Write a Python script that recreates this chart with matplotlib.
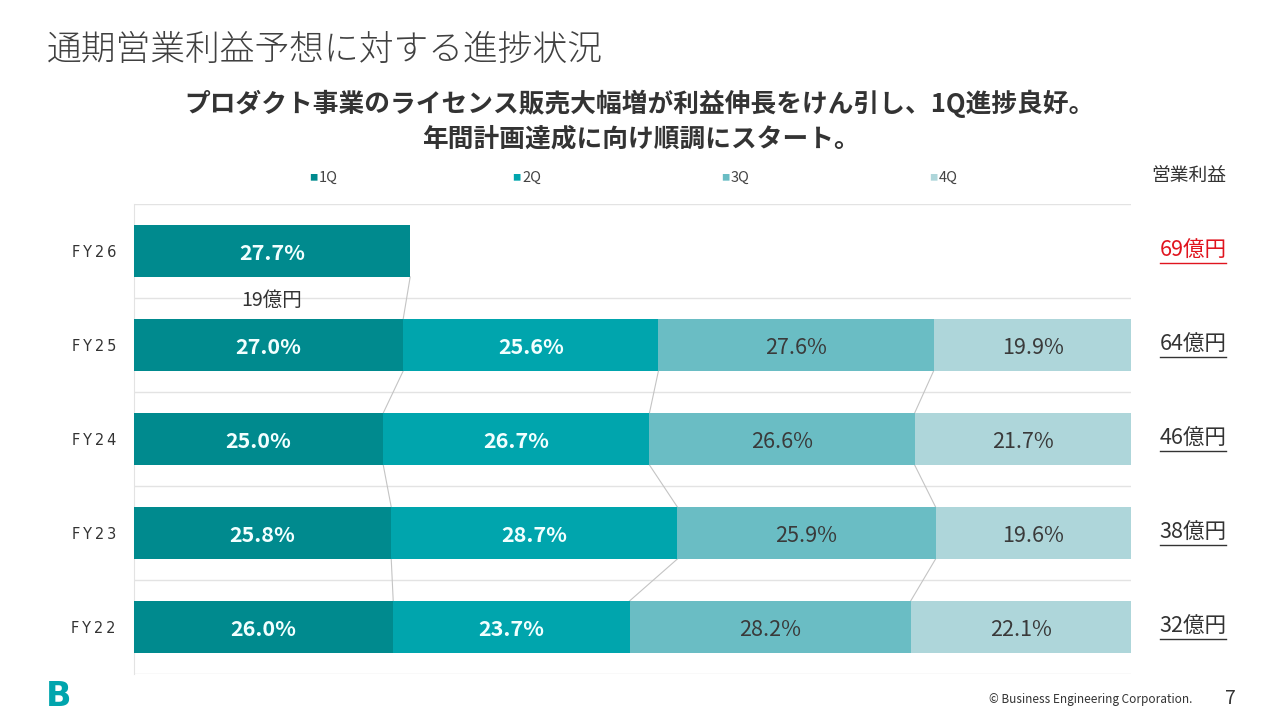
import matplotlib.pyplot as plt
import numpy as np

plt.rcParams['font.family'] = ['Noto Sans CJK JP', 'DejaVu Sans']

# データ
years = ['FY26', 'FY25', 'FY24', 'FY23', 'FY22']
quarters = ['1Q', '2Q', '3Q', '4Q']
q1 = [27.7, 27.0, 25.0, 25.8, 26.0]
q2 = [0.0, 25.6, 26.7, 28.7, 23.7]
q3 = [0.0, 27.6, 26.6, 25.9, 28.2]
q4 = [0.0, 19.9, 21.7, 19.6, 22.1]
profit = ['69億円', '64億円', '46億円', '38億円', '32億円']
fy26_q1_amount = '19億円'

colors = ['#008A8E', '#00A5AD', '#6ABDC4', '#AED6DA']
label_colors = ['#F2FFFF', '#F2FFFF', '#3A3A3A', '#3A3A3A']
label_weights = ['bold', 'bold', 'normal', 'normal']

fig = plt.figure(figsize=(12.8, 7.2), dpi=100)
ax = fig.add_axes([134 / 1280, 1 - 674 / 720, (1131 - 134) / 1280, (674 - 204) / 720])

y = np.arange(len(years))
bar_h = 0.553
series = [q1, q2, q3, q4]
left = np.zeros(len(years))
for i, vals in enumerate(series):
    vals = np.array(vals)
    ax.barh(y, vals, left=left, height=bar_h, color=colors[i], label=quarters[i],
            edgecolor='none', zorder=3)
    for j, v in enumerate(vals):
        if v > 0:
            ax.text(left[j] + v / 2, y[j], f'{v:.1f}%', ha='center', va='center_baseline',
                    fontsize=15.5, color=label_colors[i], weight=label_weights[i], zorder=4)
    left = left + vals

# 系列線（上のバーの下端 → 下のバーの上端）
cum = np.cumsum(np.array(series), axis=0)
for k in range(3):
    for j in range(len(years) - 1):
        if j == 0 and k > 0:
            continue
        ax.plot([cum[k][j], cum[k][j + 1]], [y[j] + bar_h / 2, y[j + 1] - bar_h / 2],
                color='#C4C4C4', lw=0.8, zorder=2)

ax.set_xlim(0, 100)
ax.set_ylim(len(years) - 0.5, -0.5)
ax.set_yticks(y)
ax.set_yticklabels(['\u2009'.join(s) for s in years], fontsize=10.5, color='#333333',
                   fontfamily=['DejaVu Sans'])
ax.tick_params(axis='y', length=0, pad=13)
ax.set_xticks([])
for b in np.arange(-0.5, len(years) + 0.5, 1):
    ax.axhline(b, color='#E3E3E3', lw=1, zorder=1)
for s in ['top', 'right', 'bottom']:
    ax.spines[s].set_visible(False)
ax.spines['left'].set_color('#E3E3E3')

ax.text(q1[0] / 2, 0.5, fy26_q1_amount, ha='center', va='center_baseline', fontsize=14, color='#333333')

# 右側の営業利益
fig.text(1189 / 1280, 1 - 175 / 720, '営業利益', ha='center', va='center', fontsize=13.5, color='#333333')
for j, p in enumerate(profit):
    c = '#E0141E' if j == 0 else '#333333'
    yy = ax.transData.transform((0, y[j]))[1] / 720
    fig.text(1193 / 1280, yy, p, ha='center', va='center', fontsize=15.5, color=c)
    fig.lines.append(plt.Line2D([1160 / 1280, 1226 / 1280], [yy - 12 / 720, yy - 12 / 720],
                                color=c, lw=1, transform=fig.transFigure))

# 凡例
legend_x = [313, 516, 725, 933]
for i, q in enumerate(quarters):
    fig.text(legend_x[i] / 1280, 1 - 178 / 720, '■', ha='center', va='center', fontsize=6, color=colors[i])
    fig.text((legend_x[i] + 6) / 1280, 1 - 178 / 720, q, ha='left', va='center', fontsize=10.5, color='#444444')

# タイトル
fig.text(47 / 1280, 1 - 50 / 720, '通期営業利益予想に対する進捗状況', ha='left', va='center',
         fontsize=25, color='#404040', weight='light')
fig.text(640 / 1280, 1 - 104 / 720, 'プロダクト事業のライセンス販売大幅増が利益伸長をけん引し、1Q進捗良好。',
         ha='center', va='center', fontsize=18.5, color='#333333', weight='bold')
fig.text(641 / 1280, 1 - 139 / 720, '年間計画達成に向け順調にスタート。',
         ha='center', va='center', fontsize=18.5, color='#333333', weight='bold')

# フッター
fig.text(59 / 1280, 1 - 697 / 720, 'B', ha='center', va='center', fontsize=24, color='#00A5AD',
         weight='heavy', family=['DejaVu Sans'])
fig.text(1192 / 1280, 1 - 700 / 720, '© Business Engineering Corporation.', ha='right', va='center',
         fontsize=8.5, color='#333333')
fig.text(1230 / 1280, 1 - 698 / 720, '7', ha='center', va='center', fontsize=14, color='#333333')

fig.savefig('out.png', dpi=100)
